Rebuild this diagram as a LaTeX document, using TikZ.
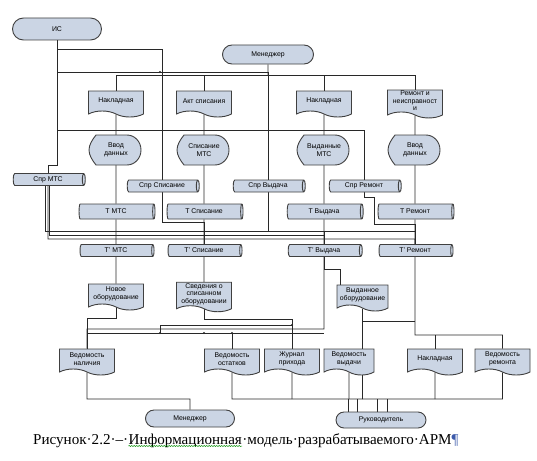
\documentclass[tikz,border=0pt]{standalone}
\usepackage{fontspec}
\setmainfont{Liberation Serif}
\newfontfamily\arialfont{Liberation Sans}
\usetikzlibrary{shapes.geometric}
\usetikzlibrary{shapes.symbols}
\usetikzlibrary{shapes.misc}
\usetikzlibrary{decorations.pathmorphing}
\definecolor{boxfill}{RGB}{203,213,228}
\definecolor{boxline}{RGB}{64,64,64}
\definecolor{wireline}{RGB}{40,40,40}
\definecolor{pilcrow}{RGB}{60,90,170}
\pgfdeclarelayer{wires}
\pgfsetlayers{wires,main}

\tikzset{
  lbl/.style={font=\arialfont\fontsize{6.9}{7.6}\selectfont, align=center, inner sep=1pt},
  term/.style={lbl, rounded rectangle, draw=boxline, fill=boxfill, line width=0.9pt},
  docbox/.style={lbl, tape, tape bend top=none, tape bend bottom=out and in,
    tape bend height=6pt, draw=boxline, fill=boxfill, line width=0.9pt,
    minimum width=55pt, minimum height=26pt},
  store/.style={lbl, cylinder, shape aspect=0.4, draw=boxline, fill=boxfill,
    line width=0.9pt, minimum width=12pt, inner sep=0.5pt},
  wire/.style={draw=wireline, line width=0.8pt},
  captext/.style={font=\fontsize{15.1}{17}\selectfont, inner sep=0pt},
}

% display shape: name, x, y, text
\newcommand{\dispnode}[4]{%
  \filldraw[draw=boxline, fill=boxfill, line width=0.9pt]
    (#2-20,#3-15) -- (#2+11,#3-15)
    arc[start angle=-90, end angle=90, x radius=14, y radius=15]
    -- (#2-20,#3+15) .. controls (#2-24,#3+10) and (#2-27,#3+5) .. (#2-27,#3)
    .. controls (#2-27,#3-5) and (#2-24,#3-10) .. (#2-20,#3-15) -- cycle;
  \node[lbl] (#1) at (#2,#3) {#4};}

\begin{document}
\begin{tikzpicture}[x=1pt,y=-1pt]
  \useasboundingbox (0,0) rectangle (537,460);

  % terminals
  \node[term, minimum width=91pt, minimum height=22pt] (is) at (57,29) {ИС};
  \node[term, minimum width=93pt, minimum height=19pt] (mtop) at (268,54.5) {Менеджер};
  \node[term, minimum width=91pt, minimum height=17pt] (mbot) at (190,418.5) {Менеджер};
  \node[term, minimum width=92pt, minimum height=16pt] (ruk) at (381,420) {Руководитель};

  % input documents
  \node[docbox] (nakl1) at (116,101) {Накладная};
  \node[docbox] (akt) at (204,101) {Акт списания};
  \node[docbox] (nakl2) at (324,101) {Накладная};
  \node[docbox] (rem) at (415,101) {Ремонт и\\неисправност\\и};

  % input forms
  \dispnode{vvod1}{116}{150}{Ввод\\данных}
  \dispnode{spis}{204}{150}{Списание\\МТС}
  \dispnode{vyd}{324}{150}{Выданные\\МТС}
  \dispnode{vvod2}{415}{150}{Ввод\\данных}

  % reference tables
  \node[store, minimum height=72pt] (sprmts) at (48,179.5) {Спр МТС};
  \node[store, minimum height=72pt] (sprspis) at (162,186) {Спр Списание};
  \node[store, minimum height=72pt] (sprvyd) at (268,186) {Спр Выдача};
  \node[store, minimum height=72pt] (sprrem) at (364,186) {Спр Ремонт};

  % tables
  \node[store, minimum height=76pt, minimum width=15pt] (tmts) at (116,211.5) {Т МТС};
  \node[store, minimum height=76pt, minimum width=15pt] (tspis) at (204,211.5) {Т Списание};
  \node[store, minimum height=76pt, minimum width=15pt] (tvyd) at (324,211.5) {Т Выдача};
  \node[store, minimum height=76pt, minimum width=15pt] (trem) at (415,211.5) {Т Ремонт};

  \node[store, minimum height=74pt] (tpmts) at (116,250.5) {Т’ МТС};
  \node[store, minimum height=74pt] (tpspis) at (204,250.5) {Т’ Списание};
  \node[store, minimum height=74pt] (tpvyd) at (324,250.5) {Т’ Выдача};
  \node[store, minimum height=74pt] (tprem) at (415,250.5) {Т’ Ремонт};

  % queries
  \node[docbox] (novoe) at (116,294) {Новое\\оборудование};
  \node[docbox] (sved) at (204,294) {Сведения о\\списанном\\оборудовании};
  \node[docbox, minimum width=51pt] (vydob) at (362.5,295) {Выданное\\оборудование};

  % reports
  \node[docbox] (vnal) at (87,359) {Ведомость\\наличия};
  \node[docbox] (vost) at (232,359) {Ведомость\\остатков};
  \node[docbox] (zhur) at (292,359) {Журнал\\прихода};
  \node[docbox, minimum width=50pt] (vvyd) at (349,359) {Ведомость\\выдачи};
  \node[docbox] (nakl3) at (435,359) {Накладная};
  \node[docbox] (vrem) at (502.5,359) {Ведомость\\ремонта};

  \begin{pgfonlayer}{wires}
    \draw[wire] (is) -- (is |- 0,165) -| (sprmts);
    \draw[wire] (is) |- (sprspis |- 0,49) -- (sprspis |- 0,222) -| (tpspis);
    \draw[wire] (is) |- (sprvyd |- 0,72) -- (sprvyd |- 0,231) -| (tpvyd);
    \draw[wire] (is) |- (sprrem |- 0,130) -- (sprrem |- 0,197) -- (374,197) -- (374,224) -| (tprem);
    \draw[wire] (mtop) -- (mtop |- 0,75);
    \draw[wire] (nakl1) |- (rem |- 0,75) -- (rem);
    \draw[wire] (akt) -- (akt |- 0,75);
    \draw[wire] (nakl2) -- (nakl2 |- 0,75);
    \draw[wire] (nakl1) -- (vvod1) -- (tmts) -- (tpmts) -- (novoe);
    \draw[wire] (akt) -- (spis) -- (tspis) -- (tpspis) -- (sved);
    \draw[wire] (nakl2) -- (vyd) -- (tvyd) -- (tpvyd) -- (tpvyd |- 0,329) -| (vnal);
    \draw[wire] (rem) -- (vvod2) -- (trem) -- (tprem) |- (vrem |- 0,335) -- (vrem);
    \draw[wire] ([xshift=-3pt]sprmts.south) |- (trem |- 0,231);
    \draw[wire] ([xshift=1pt]sprmts.south) |- (tpvyd |- 0,235);
    \draw[wire] (sprmts) |- (tprem |- 0,239) -- (tprem);
    \draw[wire] (tpvyd) |- (340,269) -- (vydob.north -| 340,0);
    \draw[wire] (novoe) |- (vnal |- 0,318) -- (vnal);
    \draw[wire] (vnal |- 0,333) -- (tpvyd |- 0,333);
    \draw[wire] (vost |- 0,333) -- (vost);
    \draw[wire] (sved) |- (zhur |- 0,319) -- (zhur);
    \draw[wire] (160,333) |- (zhur |- 0,325);
    \draw[wire] (vydob) |- (tprem |- 0,321);
    \draw[wire] (vydob) -- (vydob |- 0,399);
    \draw[wire] (nakl3 |- 0,335) -- (nakl3);
    \draw[wire] (vnal) |- (mbot |- 0,399) -- (mbot);
    \draw[wire] (vost) |- (vrem |- 0,399) -- (vrem);
    \draw[wire] (zhur) -- (zhur |- 0,399);
    \draw[wire] (vvyd) -- (vvyd |- 0,399);
    \draw[wire] (nakl3) -- (nakl3 |- 0,399);
    \foreach \dx in {-33,-24,-4,6}
      \draw[wire] ([xshift=\dx pt]ruk.north) -- ++(0,-13);
  \end{pgfonlayer}

  % junctions
  \foreach \p in {(160,72),(160,333),(204,333),(232,333),(292,325)}
    \fill[wireline] \p circle (1.2);

  % caption
  \node[captext, anchor=base west] (capa) at (33,444) {Рисунок·2.2·–·};
  \node[captext, anchor=base west] (capb) at (capa.base east) {Информационная};
  \node[captext, anchor=base west] (capc) at (capb.base east) {·модель·разрабатываемого·АРМ\textcolor{pilcrow}{¶}};
  \draw[decorate, decoration={snake, amplitude=0.5pt, segment length=2.5pt},
    draw=green!55!black, line width=0.5pt]
    ([yshift=-2pt]capb.base west) -- ([yshift=-2pt]capb.base east);

\end{tikzpicture}
\end{document}
